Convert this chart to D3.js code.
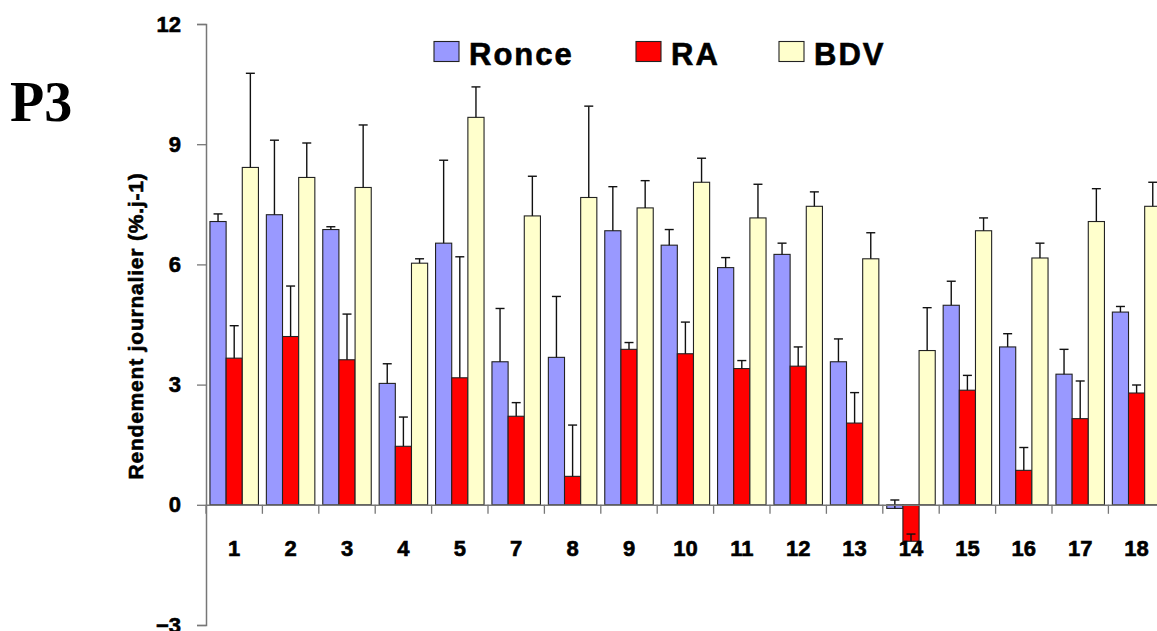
<!DOCTYPE html>
<html>
<head>
<meta charset="utf-8">
<script src="https://cdn.jsdelivr.net/npm/d3@7"></script>
<style>
  html, body { margin: 0; padding: 0; background: #fff; }
  svg { display: block; }
  text { font-family: Arial, "Liberation Sans", sans-serif; font-weight: bold; fill: #000; }
  text.heavy { stroke: #000; stroke-width: 0.6px; }
</style>
</head>
<body>
<svg id="chart" width="1157" height="631"></svg>
<script>
// Sites (P3 plot)
const categories = ["1","2","3","4","5","7","8","9","10","11","12","13","14","15","16","17","18"];
const seriesNames = ["Ronce","RA","BDV"];
const seriesColors = ["#9999FF","#FF0000","#FFFFCC"];

// Daily yield means (%.j-1)
const ronce = [7.07,7.24,6.87,3.03,6.53,3.57,3.68,6.84,6.48,5.92,6.25,3.57,-0.09,4.98,3.94,3.26,4.81];
const ra    = [3.66,4.20,3.62,1.46,3.17,2.21,0.71,3.88,3.77,3.40,3.46,2.04,-0.91,2.86,0.86,2.15,2.79];
const bdv   = [8.42,8.17,7.92,6.03,9.67,7.21,7.67,7.41,8.05,7.16,7.45,6.14,3.85,6.84,6.16,7.07,7.45];

// Upper error bar lengths
const ronceErr = [0.19,1.86,0.07,0.49,2.07,1.33,1.52,1.10,0.39,0.25,0.28,0.57,0.21,0.60,0.33,0.62,0.14];
const raErr    = [0.81,1.26,1.14,0.73,3.02,0.34,1.28,0.17,0.79,0.20,0.48,0.76,0.18,0.37,0.57,0.94,0.20];
const bdvErr   = [2.35,0.86,1.56,0.11,0.76,0.99,2.28,0.68,0.60,0.84,0.36,0.65,1.07,0.32,0.37,0.82,0.60];

const yTicks = [-3,0,3,6,9,12];

const values = [ronce, ra, bdv];
const errors = [ronceErr, raErr, bdvErr];

const svg = d3.select("#chart");

const x0 = 206, bandW = 56.4;
const x = d3.scaleBand().domain(categories)
  .range([x0, x0 + bandW * categories.length]).paddingInner(0).paddingOuter(0);
const xs = d3.scaleBand().domain(seriesNames)
  .range([0, x.bandwidth()]).paddingInner(0).paddingOuter(0.245);
const y = d3.scaleLinear().domain([-3, 12]).range([625, 24]);

// Title
svg.append("text").attr("x", 10).attr("y", 121)
  .style("font-family", "'Liberation Serif', 'Times New Roman', serif")
  .style("font-size", "56px").text("P3");

// Y axis
const yAxis = svg.append("g").attr("transform", `translate(${x0},0)`)
  .call(d3.axisLeft(y).tickValues(yTicks).tickSize(9).tickPadding(16).tickFormat(d3.format("d")));
yAxis.select(".domain").attr("stroke", "#777").attr("stroke-width", 1.5);
yAxis.selectAll(".tick line").attr("stroke", "#777").attr("stroke-width", 1.3);
yAxis.selectAll(".tick text").attr("class", "heavy").style("font-size", "22px").attr("fill", "#000");

// Y axis title
svg.append("text").attr("class", "heavy")
  .attr("transform", "translate(143,326) rotate(-90)")
  .attr("text-anchor", "middle")
  .style("font-size", "21px")
  .style("letter-spacing", "0.8px")
  .text("Rendement journalier (%.j-1)");

// Bars
seriesNames.forEach((s, si) => {
  const g = svg.append("g");
  g.selectAll("rect").data(categories).join("rect")
    .attr("x", d => x(d) + xs(s))
    .attr("width", xs.bandwidth())
    .attr("y", (d, i) => y(Math.max(0, values[si][i])))
    .attr("height", (d, i) => Math.abs(y(values[si][i]) - y(0)))
    .attr("fill", seriesColors[si])
    .attr("stroke", "#222").attr("stroke-width", 1.1);

  // Error bars (plus direction)
  const eg = svg.append("g").attr("stroke", "#111").attr("stroke-width", 1.4);
  categories.forEach((c, i) => {
    const cx = x(c) + xs(s) + xs.bandwidth() / 2;
    const v = values[si][i], e = errors[si][i];
    eg.append("line").attr("x1", cx).attr("x2", cx).attr("y1", y(v)).attr("y2", y(v + e));
    eg.append("line").attr("x1", cx - 4.5).attr("x2", cx + 4.5).attr("y1", y(v + e)).attr("y2", y(v + e));
  });
});

// X axis along zero
const xAxis = svg.append("g").attr("transform", `translate(0,${y(0)})`)
  .call(d3.axisBottom(x).tickSize(0).tickPadding(36));
xAxis.select(".domain").attr("stroke", "#777").attr("stroke-width", 1.5);
xAxis.selectAll(".tick text").attr("class", "heavy").style("font-size", "22px").attr("fill", "#000");
svg.append("g").attr("stroke", "#777").attr("stroke-width", 1.3)
  .selectAll("line").data(d3.range(categories.length + 1)).join("line")
  .attr("x1", i => x0 + i * bandW).attr("x2", i => x0 + i * bandW)
  .attr("y1", y(0)).attr("y2", y(0) + 9);

// Legend
const legendX = [434, 636, 779];
const legend = svg.append("g");
seriesNames.forEach((s, si) => {
  legend.append("rect").attr("x", legendX[si]).attr("y", 41.5)
    .attr("width", 25).attr("height", 20)
    .attr("fill", seriesColors[si]).attr("stroke", "#222").attr("stroke-width", 1.1);
  legend.append("text").attr("class", "heavy").attr("x", legendX[si] + 35).attr("y", 65)
    .style("font-size", "31px").style("letter-spacing", "2px").text(s);
});
</script>
</body>
</html>
